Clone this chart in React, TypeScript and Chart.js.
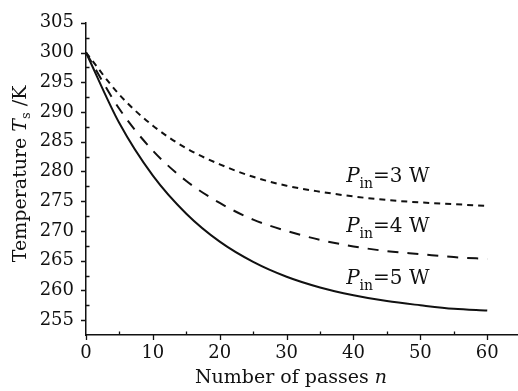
import React, { useEffect, useRef } from "react";
import { Chart, registerables } from "chart.js";

Chart.register(...registerables);

// ---- data ----
const passes = [0, 5, 10, 15, 20, 25, 30, 35, 40, 45, 50, 55, 60];
const tempP3 = [300, 292.9, 287.7, 283.9, 281.2, 279.1, 277.6, 276.6, 275.8, 275.2, 274.8, 274.5, 274.2];
const tempP4 = [300, 290.5, 283.5, 278.4, 274.7, 271.9, 270.0, 268.5, 267.4, 266.6, 266.1, 265.6, 265.3];
const tempP5 = [300, 288.1, 279.3, 272.9, 268.2, 264.8, 262.3, 260.5, 259.2, 258.2, 257.5, 256.9, 256.6];

const xTicks = [0, 10, 20, 30, 40, 50, 60];
const xMinorTicks = [5, 15, 25, 35, 45, 55];
const yTicks = [255, 260, 265, 270, 275, 280, 285, 290, 295, 300, 305];
const yMinorTicks = [257.5, 262.5, 267.5, 272.5, 277.5, 282.5, 287.5, 292.5, 297.5, 302.5];

const labelPowers = ["3", "4", "5"];
const labelN = [38.9, 38.9, 38.9];
const labelT = [278.3, 269.8, 261.1];

const SERIF = '"DejaVu Serif", "Liberation Serif", serif';
const INK = "#111";

type Seg = { text: string; font: string; dy?: number };

function drawRich(ctx: CanvasRenderingContext2D, segs: Seg[], x: number, y: number, align: "left" | "center") {
  let total = 0;
  for (const s of segs) {
    ctx.font = s.font;
    total += ctx.measureText(s.text).width;
  }
  let cx = align === "center" ? x - total / 2 : x;
  ctx.textBaseline = "alphabetic";
  ctx.textAlign = "left";
  for (const s of segs) {
    ctx.font = s.font;
    ctx.fillText(s.text, cx, y + (s.dy || 0));
    cx += ctx.measureText(s.text).width;
  }
}

const decorPlugin = {
  id: "decor",
  afterDraw(chart: any) {
    const ctx: CanvasRenderingContext2D = chart.ctx;
    const xs = chart.scales.x;
    const ys = chart.scales.y;
    const area = chart.chartArea;
    ctx.save();
    ctx.strokeStyle = INK;
    ctx.lineWidth = 1.3;
    ctx.beginPath();
    for (const v of xTicks) {
      const px = Math.round(xs.getPixelForValue(v)) + 0.5;
      ctx.moveTo(px, area.bottom);
      ctx.lineTo(px, area.bottom + 5);
    }
    for (const v of xMinorTicks) {
      const px = Math.round(xs.getPixelForValue(v)) + 0.5;
      ctx.moveTo(px, area.bottom);
      ctx.lineTo(px, area.bottom - 3.5);
    }
    for (const v of yTicks) {
      const py = Math.round(ys.getPixelForValue(v)) + 0.5;
      ctx.moveTo(area.left - 5, py);
      ctx.lineTo(area.left, py);
    }
    for (const v of yMinorTicks) {
      const py = Math.round(ys.getPixelForValue(v)) + 0.5;
      ctx.moveTo(area.left, py);
      ctx.lineTo(area.left + 3.5, py);
    }
    ctx.stroke();

    ctx.fillStyle = INK;
    // x axis title
    drawRich(
      ctx,
      [
        { text: "Number of passes ", font: `19px ${SERIF}` },
        { text: "n", font: `italic 19px ${SERIF}` },
      ],
      291,
      383,
      "center"
    );
    // y axis title (rotated)
    ctx.save();
    ctx.translate(26, (area.top + area.bottom) / 2 - 5);
    ctx.rotate(-Math.PI / 2);
    drawRich(
      ctx,
      [
        { text: "Temperature ", font: `19px ${SERIF}` },
        { text: "T", font: `italic 19px ${SERIF}` },
        { text: "s", font: `13px ${SERIF}`, dy: 4 },
        { text: " /K", font: `19px ${SERIF}` },
      ],
      0,
      0,
      "center"
    );
    ctx.restore();

    // curve labels
    for (let i = 0; i < labelPowers.length; i++) {
      const px = xs.getPixelForValue(labelN[i]);
      const py = ys.getPixelForValue(labelT[i]);
      drawRich(
        ctx,
        [
          { text: "P", font: `italic 20px ${SERIF}` },
          { text: "in", font: `14px ${SERIF}`, dy: 6 },
          { text: `=${labelPowers[i]} W`, font: `20px ${SERIF}` },
        ],
        px,
        py,
        "left"
      );
    }
    ctx.restore();
  },
};

export default function App() {
  const canvasRef = useRef<HTMLCanvasElement | null>(null);

  useEffect(() => {
    document.body.style.margin = "0";
    const canvas = canvasRef.current;
    if (!canvas) return;
    const tickFont = { family: SERIF, size: 18 };
    const chart = new Chart(canvas, {
      type: "line",
      data: {
        datasets: [
          {
            label: "P_in=3 W",
            data: passes.map((n, i) => ({ x: n, y: tempP3[i] })),
            borderColor: INK,
            borderWidth: 2,
            borderDash: [6, 5],
            pointRadius: 0,
            cubicInterpolationMode: "monotone",
            fill: false,
          },
          {
            label: "P_in=4 W",
            data: passes.map((n, i) => ({ x: n, y: tempP4[i] })),
            borderColor: INK,
            borderWidth: 2,
            borderDash: [11, 9],
            pointRadius: 0,
            cubicInterpolationMode: "monotone",
            fill: false,
          },
          {
            label: "P_in=5 W",
            data: passes.map((n, i) => ({ x: n, y: tempP5[i] })),
            borderColor: INK,
            borderWidth: 2,
            pointRadius: 0,
            cubicInterpolationMode: "monotone",
            fill: false,
          },
        ],
      },
      options: {
        animation: false,
        responsive: false,
        maintainAspectRatio: false,
        layout: { padding: { top: 15, right: 0, left: 0, bottom: 0 } },
        plugins: { legend: { display: false }, tooltip: { enabled: false } },
        scales: {
          x: {
            type: "linear",
            min: 0,
            max: 64.6,
            grid: { display: false, drawTicks: false },
            border: { display: true, color: INK, width: 1.5 },
            ticks: { font: tickFont, color: INK, padding: 8, maxRotation: 0 },
            afterBuildTicks: (s: any) => {
              s.ticks = xTicks.map((v) => ({ value: v }));
            },
            afterFit: (s: any) => {
              s.height = 56;
            },
          },
          y: {
            type: "linear",
            min: 252.5,
            max: 305,
            grid: { display: false, drawTicks: false },
            border: { display: true, color: INK, width: 1.5 },
            ticks: { font: tickFont, color: INK, padding: 12 },
            afterBuildTicks: (s: any) => {
              s.ticks = yTicks.map((v) => ({ value: v }));
            },
            afterFit: (s: any) => {
              s.width = 86;
            },
          },
        },
      },
      plugins: [decorPlugin],
    } as any);
    return () => chart.destroy();
  }, []);

  return (
    <div style={{ position: "absolute", left: 0, top: 0, width: 518, height: 391, background: "#fff" }}>
      <canvas ref={canvasRef} width={518} height={391} />
    </div>
  );
}
